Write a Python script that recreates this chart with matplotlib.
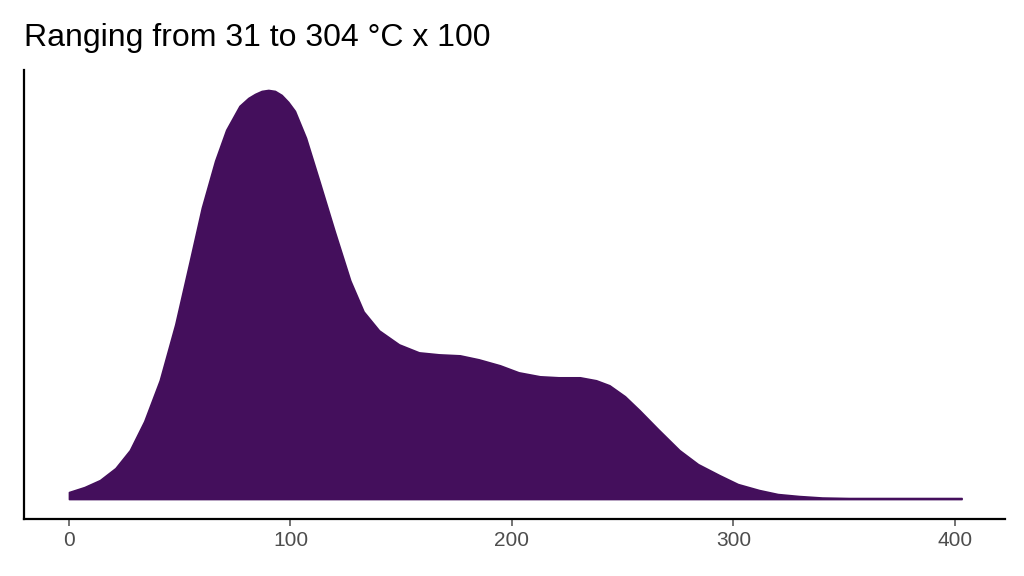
import matplotlib
matplotlib.use("Agg")
import matplotlib.pyplot as plt

x = [0, 7, 14, 21, 27.5, 34, 41, 48, 54.6, 60, 66, 71, 77, 81, 84, 87, 90, 93, 96, 99, 102, 107, 113, 120, 127, 133, 140, 149, 158, 167, 176.5, 185, 194.6, 203, 212.6, 221, 230.7, 238, 244, 251, 257.6, 266, 275.6, 284, 293.6, 302, 311.6, 320, 329.6, 340, 352, 375, 403]
density = [7, 12, 19, 31, 49, 78, 119, 175, 239, 292, 339, 370, 394, 402, 406, 409, 410, 409, 405, 398, 389, 362, 319, 268, 219, 188, 169, 155, 147, 145, 144, 140, 134, 127, 123, 122, 122, 119, 114, 103, 89, 70, 49, 35, 24, 15, 9, 5, 3, 1.5, 1, 1, 1]

plt.rcParams['font.family'] = ['Liberation Sans', 'DejaVu Sans']
fig = plt.figure(figsize=(10.24, 5.76), dpi=100)
ax = fig.add_axes([24/1024, 1-519/576, (1005-24)/1024, (519-70)/576])
ax.fill_between(x, 0, density, color="#440F5C", linewidth=1.2, edgecolor="#440F5C")
ax.set_xlim(-20.3, 422.6)
ax.set_ylim(-20, 430)
ax.set_yticks([])
ax.set_xticks([0, 100, 200, 300, 400])
ax.tick_params(axis="x", labelsize=15, colors="#4D4D4D", length=5, width=1.1)
for s in ["top", "right"]:
    ax.spines[s].set_visible(False)
for s in ["left", "bottom"]:
    ax.spines[s].set_linewidth(1.6)
fig.text(24/1024, 1-46/576, "Ranging from 31 to 304 °C x 100", fontsize=23, va="baseline")
fig.savefig("out.png", dpi=100)
